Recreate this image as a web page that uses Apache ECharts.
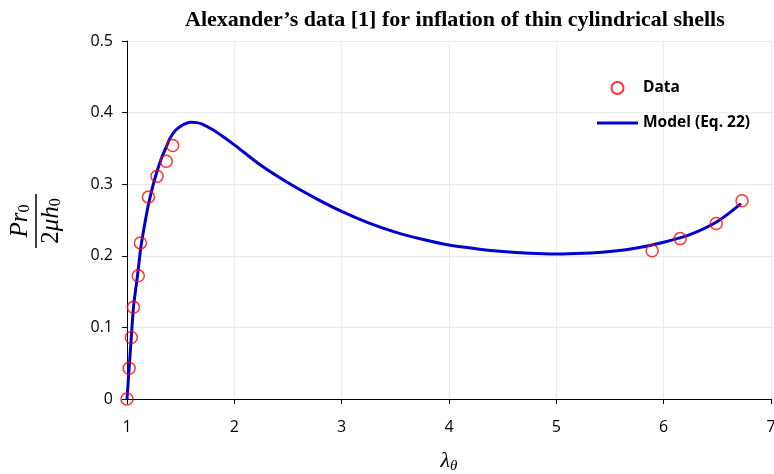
<!DOCTYPE html>
<html>
<head>
<meta charset="utf-8">
<script src="https://cdn.jsdelivr.net/npm/echarts@6/dist/echarts.min.js"></script>
<style>html,body{margin:0;padding:0;background:#fff}#c{width:774px;height:474px}</style>
</head>
<body>
<div id="c"></div>
<script>
var dataX = [1.0, 1.02, 1.04, 1.06, 1.105, 1.125, 1.2, 1.28, 1.366, 1.426, 5.893, 6.154, 6.49, 6.73];
var dataY = [0.0, 0.043, 0.086, 0.128, 0.172, 0.218, 0.282, 0.311, 0.332, 0.354, 0.207, 0.224, 0.245, 0.277];
var modelX = [1.0, 1.02, 1.04, 1.06, 1.08, 1.10, 1.13, 1.16, 1.20, 1.24, 1.28, 1.32, 1.36, 1.40, 1.45, 1.50, 1.55, 1.60, 1.65, 1.70, 1.80, 1.90, 2.0, 2.25, 2.5, 2.75, 3.0, 3.25, 3.5, 3.75, 4.0, 4.25, 4.5, 4.75, 5.0, 5.25, 5.5, 5.75, 6.0, 6.25, 6.5, 6.72];
var modelY = [0.0, 0.043, 0.086, 0.128, 0.152, 0.175, 0.213, 0.240, 0.272, 0.297, 0.318, 0.336, 0.350, 0.364, 0.375, 0.381, 0.385, 0.3865, 0.386, 0.384, 0.376, 0.366, 0.355, 0.326, 0.302, 0.281, 0.262, 0.246, 0.233, 0.223, 0.215, 0.210, 0.206, 0.2035, 0.2025, 0.2035, 0.206, 0.211, 0.219, 0.230, 0.248, 0.273];
var xTicks = [1, 2, 3, 4, 5, 6, 7];
var yTicks = [0, 0.1, 0.2, 0.3, 0.4, 0.5];

function pairs(xs, ys) { return xs.map(function (x, i) { return [x, ys[i]]; }); }

var chart = echarts.init(document.getElementById('c'));
var tickFont = { fontFamily: 'Open Sans', fontSize: 16, color: '#000' };
chart.setOption({
  animation: false,
  title: {
    text: 'Alexander\u2019s data [1] for inflation of thin cylindrical shells',
    left: 180, top: 4,
    textStyle: { fontFamily: 'Liberation Serif', fontWeight: 'bold', fontSize: 22, color: '#000' }
  },
  legend: {
    orient: 'vertical', left: 592, top: 75,
    itemWidth: 41, itemHeight: 12, itemGap: 19,
    textStyle: { fontFamily: 'Open Sans', fontWeight: 'bold', fontSize: 15.5, color: '#000' },
    data: [
      { name: 'Data' },
      { name: 'Model (Eq. 22)', icon: 'path://M0,0 L41,0 L41,3 L0,3 Z' }
    ]
  },
  grid: { left: 127, right: 3, top: 41, bottom: 75, outerBoundsMode: 'none', containLabel: false },
  xAxis: {
    type: 'value', min: xTicks[0], max: xTicks[xTicks.length - 1], interval: 1,
    name: '{l|\u03bb}{s|\u03b8}', nameLocation: 'middle', nameGap: 50,
    nameTextStyle: { rich: {
      l: { fontFamily: 'Liberation Serif', fontStyle: 'italic', fontSize: 22, color: '#000' },
      s: { fontFamily: 'Liberation Serif', fontStyle: 'italic', fontSize: 15, color: '#000', padding: [10, 0, 0, 0] }
    } },
    axisLine: { lineStyle: { color: '#000', width: 1 } },
    axisTick: { show: true, length: 5, lineStyle: { color: '#000' } },
    axisLabel: Object.assign({ margin: 20 }, tickFont),
    splitLine: { show: true, lineStyle: { color: '#ebebeb', width: 1 } }
  },
  yAxis: {
    type: 'value', min: yTicks[0], max: yTicks[yTicks.length - 1], interval: 0.1,
    axisLine: { show: true, lineStyle: { color: '#000', width: 1 } },
    axisTick: { show: true, length: 5, lineStyle: { color: '#000' } },
    axisLabel: Object.assign({ margin: 14 }, tickFont),
    splitLine: { show: true, lineStyle: { color: '#ebebeb', width: 1 } }
  },
  graphic: [{
    type: 'group', x: 36, y: 221, rotation: Math.PI / 2,
    children: [
      { type: 'line', shape: { x1: -27, y1: 0, x2: 27, y2: 0 }, style: { stroke: '#000', lineWidth: 1.5 } },
      { type: 'text', x: 0, y: -3, style: {
          text: '{i|Pr}{s|0}', align: 'center', verticalAlign: 'bottom',
          rich: {
            i: { fontFamily: 'Liberation Serif', fontStyle: 'italic', fontSize: 25, fill: '#000' },
            s: { fontFamily: 'Liberation Serif', fontSize: 16, fill: '#000', padding: [10, 0, 0, 0] }
          } } },
      { type: 'text', x: 0, y: 2, style: {
          text: '{n|2}{i|\u03bch}{s|0}', align: 'center', verticalAlign: 'top',
          rich: {
            n: { fontFamily: 'Liberation Serif', fontSize: 25, fill: '#000' },
            i: { fontFamily: 'Liberation Serif', fontStyle: 'italic', fontSize: 25, fill: '#000' },
            s: { fontFamily: 'Liberation Serif', fontSize: 16, fill: '#000', padding: [10, 0, 0, 0] }
          } } }
    ]
  }],
  series: [
    {
      name: 'Model (Eq. 22)', type: 'line', data: pairs(modelX, modelY),
      smooth: 0.3, showSymbol: false, symbol: 'none',
      lineStyle: { color: '#0000cc', width: 3 }, itemStyle: { color: '#0000cc' }, z: 2
    },
    {
      name: 'Data', type: 'scatter', data: pairs(dataX, dataY),
      symbol: 'circle', symbolSize: 12,
      itemStyle: { color: 'rgba(0,0,0,0)', borderColor: '#ff0000', borderWidth: 1.5 }, z: 3
    }
  ]
});
</script>
</body>
</html>
